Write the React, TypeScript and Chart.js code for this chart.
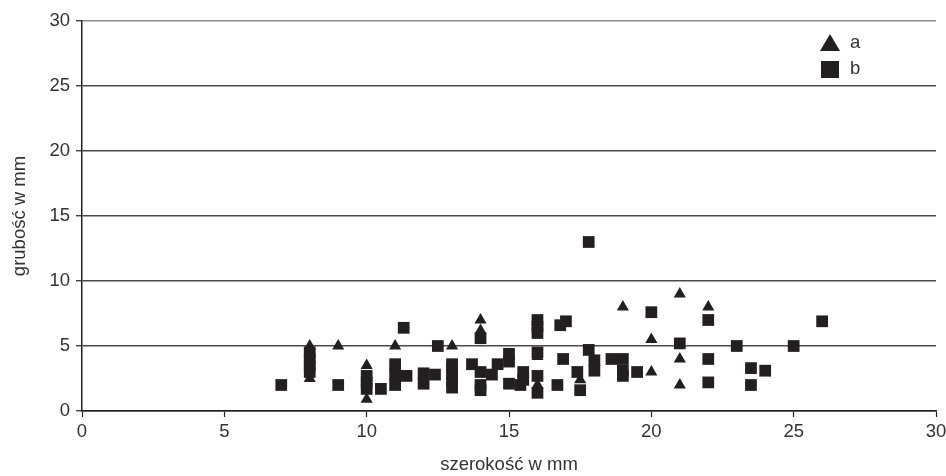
import { useEffect, useRef } from "react";
import { Chart, registerables } from "chart.js";

Chart.register(...registerables);

// Series "a" (triangles): width and thickness in mm
const widthA = [8, 8, 9, 10, 10, 11, 13, 14, 14, 16, 16, 17.5, 19, 20, 20, 21, 21, 21, 22];
const thickA = [5, 2.5, 5, 3.5, 0.9, 5, 5, 7, 6.2, 4.2, 2, 2.4, 8, 5.5, 3, 9, 4, 2, 8];

// Series "b" (squares): width and thickness in mm
const widthB = [
  7, 8, 8, 8, 8, 9, 10, 10, 10, 10.5, 11, 11, 11, 11.3, 11.4, 12, 12, 12.4, 12.5,
  13, 13, 13, 13, 13, 13.7, 14, 14, 14, 14, 14.4, 14.6, 15, 15, 15, 15.4, 15.5, 15.5,
  16, 16, 16, 16, 16, 16, 16.7, 16.8, 17, 16.9, 17.4, 17.5, 17.8, 18, 18, 17.8,
  18.6, 19, 19, 19, 19.5, 20, 21, 22, 22, 22, 23, 23.5, 23.5, 24, 25, 26,
];
const thickB = [
  2, 3, 3.5, 4, 4.5, 2, 1.7, 2.2, 2.7, 1.7, 2, 2.8, 3.6, 6.4, 2.7, 2.9, 2.1, 2.8, 5,
  1.8, 2.3, 2.8, 3.3, 3.6, 3.6, 3, 2, 1.6, 5.6, 2.8, 3.6, 4.4, 3.8, 2.1, 2, 3, 2.4,
  7, 6.5, 6, 4.5, 2.7, 1.4, 2, 6.6, 6.9, 4, 3, 1.6, 4.7, 3.9, 3.1, 13,
  4, 4, 3.1, 2.7, 3, 7.6, 5.2, 7, 4, 2.2, 5, 3.3, 2, 3.1, 5, 6.9,
];

const seriesNames = ["a", "b"];
const axisTicks = [0, 5, 10, 15, 20, 25, 30];
const xTitle = "szerokość w mm";
const yTitle = "grubość w mm";

const FONT = "'Liberation Sans', Arial, Helvetica, sans-serif";
const INK = "#231f20";
const TEXT = "#333333";
const FONT_SIZE = 18.5;

const toPoints = (xs: number[], ys: number[]) => xs.map((x, i) => ({ x, y: ys[i] }));

// Legend drawn inside the plot area, top-right, stacked vertically
const innerLegend = {
  id: "innerLegend",
  afterDraw(chart: any) {
    const { ctx, chartArea } = chart;
    const x0 = chartArea.right - 106;
    let y = chartArea.top + 22;
    ctx.save();
    chart.data.datasets.forEach((ds: any) => {
      ctx.fillStyle = INK;
      ctx.beginPath();
      if (ds.pointStyle === "triangle") {
        ctx.moveTo(x0, y - 9);
        ctx.lineTo(x0 + 10, y + 8);
        ctx.lineTo(x0 - 10, y + 8);
        ctx.closePath();
      } else {
        ctx.rect(x0 - 9, y - 8, 18, 17);
      }
      ctx.fill();
      ctx.fillStyle = TEXT;
      ctx.font = `${FONT_SIZE}px ${FONT}`;
      ctx.textBaseline = "middle";
      ctx.textAlign = "left";
      ctx.fillText(ds.label, x0 + 20, y);
      y += 26;
    });
    ctx.restore();
  },
};

export default function App() {
  const canvasRef = useRef<HTMLCanvasElement | null>(null);

  useEffect(() => {
    document.body.style.margin = "0";
    const canvas = canvasRef.current;
    if (!canvas) return;
    const chart = new Chart(canvas, {
      type: "scatter",
      data: {
        datasets: [
          {
            label: seriesNames[0],
            data: toPoints(widthA, thickA),
            pointStyle: "triangle",
            pointRadius: 7,
            pointHoverRadius: 7,
            backgroundColor: INK,
            borderColor: INK,
            borderWidth: 0,
          },
          {
            label: seriesNames[1],
            data: toPoints(widthB, thickB),
            pointStyle: "rect",
            pointRadius: 8.3,
            pointHoverRadius: 8.3,
            backgroundColor: INK,
            borderColor: INK,
            borderWidth: 0,
          },
        ],
      },
      options: {
        responsive: false,
        animation: false,
        events: [],
        layout: { padding: { left: 0, right: 0, top: 21, bottom: 0 } },
        plugins: {
          legend: { display: false },
          tooltip: { enabled: false },
        },
        scales: {
          x: {
            type: "linear",
            min: 0,
            max: 30,
            afterBuildTicks: (s: any) => {
              s.ticks = axisTicks.map((v) => ({ value: v }));
            },
            afterFit: (s: any) => {
              s.height = 65;
              s.paddingLeft = 0;
              s.paddingRight = 10;
            },
            grid: {
              display: true,
              drawOnChartArea: false,
              drawTicks: true,
              tickLength: 6,
              tickColor: "#222",
              tickWidth: 1.2,
            },
            border: { display: true, color: "#222", width: 1.5 },
            ticks: {
              padding: 4,
              color: TEXT,
              font: { family: FONT, size: FONT_SIZE },
            },
            title: {
              display: true,
              text: xTitle,
              color: TEXT,
              font: { family: FONT, size: FONT_SIZE },
              padding: { top: 4, bottom: 0 },
            },
          },
          y: {
            type: "linear",
            min: 0,
            max: 30,
            afterBuildTicks: (s: any) => {
              s.ticks = axisTicks.map((v) => ({ value: v }));
            },
            afterFit: (s: any) => {
              s.width = 82;
              s.paddingTop = 0;
              s.paddingBottom = 0;
            },
            grid: {
              display: true,
              drawOnChartArea: true,
              drawTicks: true,
              tickLength: 6,
              color: (c: any) => (c.tick && c.tick.value === 30 ? "#8a8a8a" : "#4a4a4a"),
              lineWidth: 1.5,
              tickColor: "#222",
              tickWidth: 1.2,
            },
            border: { display: true, color: "#222", width: 1.5 },
            ticks: {
              padding: 6,
              color: TEXT,
              font: { family: FONT, size: FONT_SIZE },
            },
            title: {
              display: true,
              text: yTitle,
              color: TEXT,
              font: { family: FONT, size: FONT_SIZE },
              padding: { top: 9, bottom: 0 },
            },
          },
        },
      },
      plugins: [innerLegend],
    });
    return () => chart.destroy();
  }, []);

  return (
    <div style={{ position: "relative", width: 946, height: 476, background: "#fff" }}>
      <canvas ref={canvasRef} width={946} height={476} />
    </div>
  );
}
